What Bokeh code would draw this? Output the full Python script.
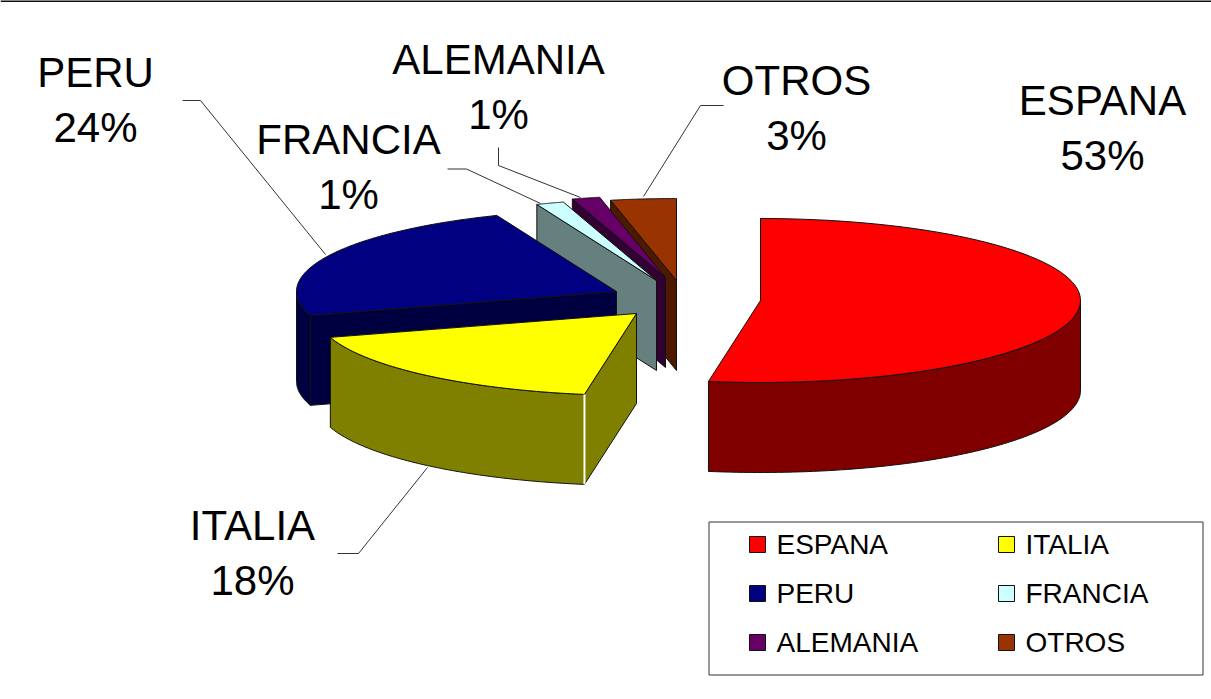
import numpy as np
from bokeh.plotting import figure
from bokeh.embed import file_html
from bokeh.resources import INLINE
from bokeh.core.properties import value

# ---- data
categories = ["ESPANA", "ITALIA", "PERU", "FRANCIA", "ALEMANIA", "OTROS"]
shares = [52.6, 17.7, 23.6, 1.4, 1.4, 3.3]
top_colors = ["#FF0000", "#FFFF00", "#000080", "#CCFFFF", "#660066", "#993300"]
side_colors = ["#800000", "#808000", "#000040", "#668080", "#330033", "#4D1A00"]

# ---- layout of the exploded 3D pie (screen pixels)
RX, RY, DEPTH = 320, 82, 90
slice_origin = {"ESPANA": (760, 300), "ITALIA": (636, 313), "PERU": (616, 291),
                "FRANCIA": (656, 280), "ALEMANIA": (665, 277), "OTROS": (676, 280)}
draw_order = ["OTROS", "ALEMANIA", "FRANCIA", "PERU", "ESPANA", "ITALIA"]
label_pos = {"PERU": (95, 72), "FRANCIA": (348, 139), "ALEMANIA": (498, 59),
             "OTROS": (796, 80), "ESPANA": (1102, 100), "ITALIA": (252, 525)}
LINE_GAP = 55
leaders = [([182, 200, 325], [100, 100, 254]),
           ([447, 466, 540], [168.5, 168.5, 203]),
           ([498, 498, 580], [147, 165, 197]),
           ([723, 700, 643], [105, 105, 196]),
           ([337, 358, 427], [553, 553, 467])]

W, H = 1211, 699
p = figure(width=W, height=H, x_range=(0, W), y_range=(H, 0), output_backend="svg",
           toolbar_location=None, min_border=0, outline_line_color=None,
           background_fill_color="white")
p.axis.visible = False
p.grid.visible = False

p.line([0, W], [0.5, 0.5], line_color="#111111", line_width=2)

# cumulative angles, clockwise from 12 o'clock
cum = np.concatenate([[0], np.cumsum(shares)]) / np.sum(shares) * 2 * np.pi
angles = {c: (cum[i], cum[i + 1]) for i, c in enumerate(categories)}
top_col = dict(zip(categories, top_colors))
side_col = dict(zip(categories, side_colors))


def rim(c, a0, a1, n=80):
    x0, y0 = slice_origin[c]
    t = np.linspace(a0, a1, n)
    return x0 + RX * np.sin(t), y0 - RY * np.cos(t)


def patch(xs, ys, color):
    p.patch(list(xs), list(ys), fill_color=color, line_color="#111111", line_width=1)


for c in draw_order:
    a0, a1 = angles[c]
    x0, y0 = slice_origin[c]
    # cut wall along the slice's starting edge
    ex, ey = rim(c, a0, a0, 1)
    patch([x0, ex[0], ex[0], x0], [y0, ey[0], ey[0] + DEPTH, y0 + DEPTH], side_col[c])
    # outer wall: only the part of the rim facing the viewer
    f0, f1 = max(a0, np.pi / 2), min(a1, 3 * np.pi / 2)
    if f1 > f0:
        rx, ry = rim(c, f0, f1)
        patch(np.r_[rx, rx[::-1]], np.r_[ry, ry[::-1] + DEPTH], side_col[c])
    # top face
    tx, ty = rim(c, a0, a1)
    patch(np.r_[x0, tx], np.r_[y0, ty], top_col[c])
    if c == "ITALIA":
        p.segment(ex, ey, ex, ey + DEPTH, line_color="white", line_width=2)

# leader lines
for lx, ly in leaders:
    p.line(lx, ly, line_color="#333333", line_width=1)

# data labels
font = value("Liberation Sans")
names, pcts, lx, ly, py = [], [], [], [], []
for c, s in zip(categories, shares):
    names.append(c)
    pcts.append(f"{round(s)}%")
    lx.append(label_pos[c][0])
    ly.append(label_pos[c][1])
    py.append(label_pos[c][1] + LINE_GAP)
for texts, ys in ((names, ly), (pcts, py)):
    p.text(lx, ys, text=texts, text_font=font, text_font_size="42px", text_color="black",
           text_align="center", text_baseline="alphabetic")

# legend
p.quad(left=[708.5], right=[1202.5], top=[521.5], bottom=[674.5], fill_color="white",
       line_color="#333333", line_width=1)
leg_x = [757 if i % 2 == 0 else 1006 for i in range(6)]
leg_y = [544 + 49 * (i // 2) for i in range(6)]
p.scatter(leg_x, leg_y, marker="square", size=16, fill_color=top_colors,
          line_color="#111111", line_width=1, line_join="miter")
p.text([x + 19 for x in leg_x], leg_y, text=categories, text_font=font,
       text_font_size="28px", text_color="black", text_align="left", text_baseline="alphabetic")

open("out.html", "w").write(file_html(p, INLINE))
